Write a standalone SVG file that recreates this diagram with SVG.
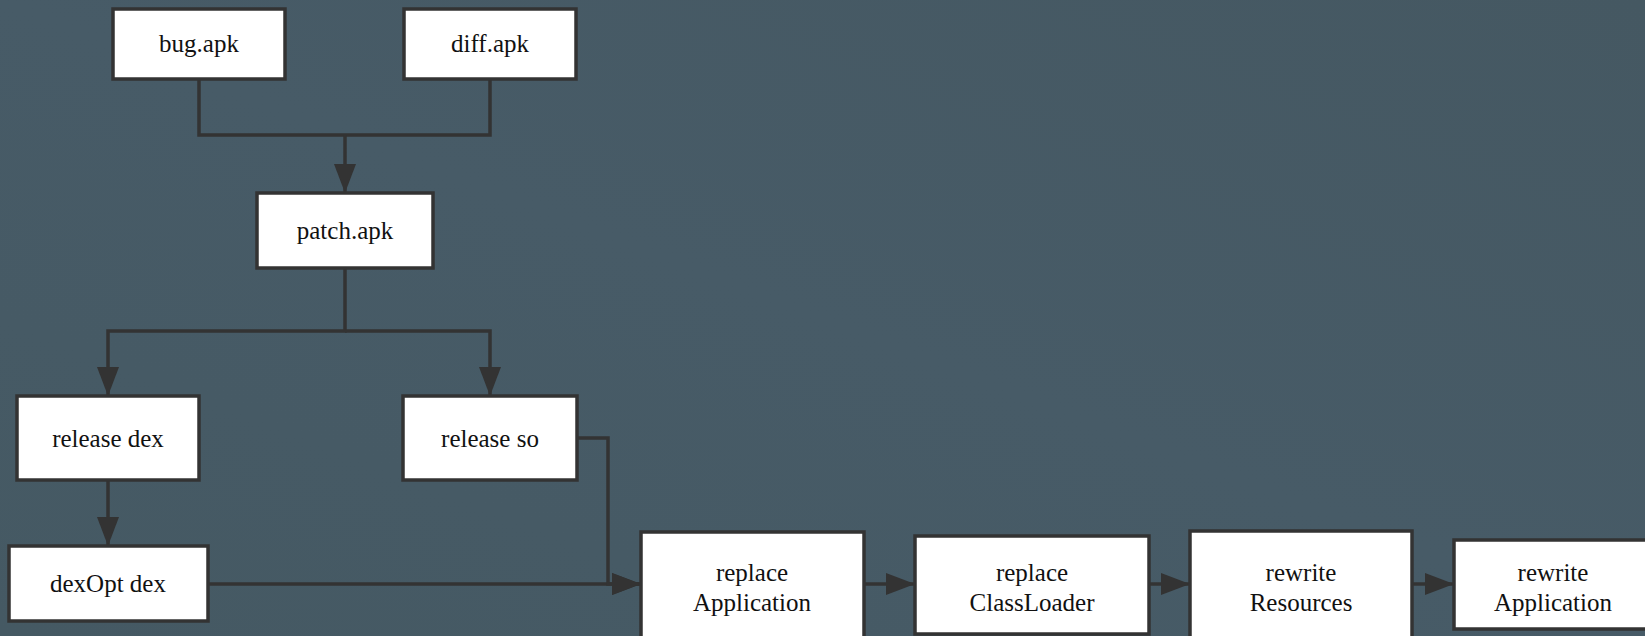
<svg xmlns="http://www.w3.org/2000/svg" width="1645" height="636" viewBox="0 0 1645 636">
  <style>
    .box { fill: #ffffff; stroke: #333333; stroke-width: 3.5; }
    .lbl { font-family: Liberation Serif, serif; font-size: 25px; fill: #111111; text-anchor: middle; }
    .edge { fill: none; stroke: #333333; stroke-width: 3.5; }
  </style>
  <defs>
    <marker id="arr" markerUnits="userSpaceOnUse" markerWidth="30" markerHeight="22" refX="29" refY="11" orient="auto">
      <path d="M0,0 L29,11 L0,22 Z" fill="#333333"/>
    </marker>
    <linearGradient id="bg" x1="0" y1="1" x2="1" y2="0">
      <stop offset="0" stop-color="#455963"/>
      <stop offset="0.5" stop-color="#475b67"/>
      <stop offset="1" stop-color="#455862"/>
    </linearGradient>
  </defs>
  <rect x="0" y="0" width="1645" height="636" fill="url(#bg)"/>

  <g id="connectors">
    <path class="edge" d="M199 79 V135 H345"/>
    <path class="edge" d="M490 79 V135 H345"/>
    <path class="edge" d="M345 135 V193" marker-end="url(#arr)"/>
    <path class="edge" d="M345 268 V331 H108 V396" marker-end="url(#arr)"/>
    <path class="edge" d="M345 331 H490 V396" marker-end="url(#arr)"/>
    <path class="edge" d="M108 480 V546" marker-end="url(#arr)"/>
    <path class="edge" d="M208 584 H641" marker-end="url(#arr)"/>
    <path class="edge" d="M577 438 H608 V584 H641" marker-end="url(#arr)"/>
    <path class="edge" d="M864 584 H915" marker-end="url(#arr)"/>
    <path class="edge" d="M1149 584 H1190" marker-end="url(#arr)"/>
    <path class="edge" d="M1412 584 H1454" marker-end="url(#arr)"/>
  </g>

  <g id="bug-apk">
    <rect class="box" x="113" y="9" width="172" height="70"/>
    <text class="lbl" x="199" y="52">bug.apk</text>
  </g>
  <g id="diff-apk">
    <rect class="box" x="404" y="9" width="172" height="70"/>
    <text class="lbl" x="490" y="52">diff.apk</text>
  </g>
  <g id="patch-apk">
    <rect class="box" x="257" y="193" width="176" height="75"/>
    <text class="lbl" x="345" y="239">patch.apk</text>
  </g>
  <g id="release-dex">
    <rect class="box" x="17" y="396" width="182" height="84"/>
    <text class="lbl" x="108" y="447">release dex</text>
  </g>
  <g id="release-so">
    <rect class="box" x="403" y="396" width="174" height="84"/>
    <text class="lbl" x="490" y="447">release so</text>
  </g>
  <g id="dexopt-dex">
    <rect class="box" x="9" y="546" width="199" height="75"/>
    <text class="lbl" x="108" y="592">dexOpt dex</text>
  </g>
  <g id="replace-application">
    <rect class="box" x="641" y="532" width="223" height="110"/>
    <text class="lbl" x="752" y="581">replace</text>
    <text class="lbl" x="752" y="611">Application</text>
  </g>
  <g id="replace-classloader">
    <rect class="box" x="915" y="536" width="234" height="98"/>
    <text class="lbl" x="1032" y="581">replace</text>
    <text class="lbl" x="1032" y="611">ClassLoader</text>
  </g>
  <g id="rewrite-resources">
    <rect class="box" x="1190" y="531" width="222" height="110"/>
    <text class="lbl" x="1301" y="581">rewrite</text>
    <text class="lbl" x="1301" y="611">Resources</text>
  </g>
  <g id="rewrite-application">
    <rect class="box" x="1454" y="540" width="200" height="89"/>
    <text class="lbl" x="1553" y="581">rewrite</text>
    <text class="lbl" x="1553" y="611">Application</text>
  </g>
</svg>
